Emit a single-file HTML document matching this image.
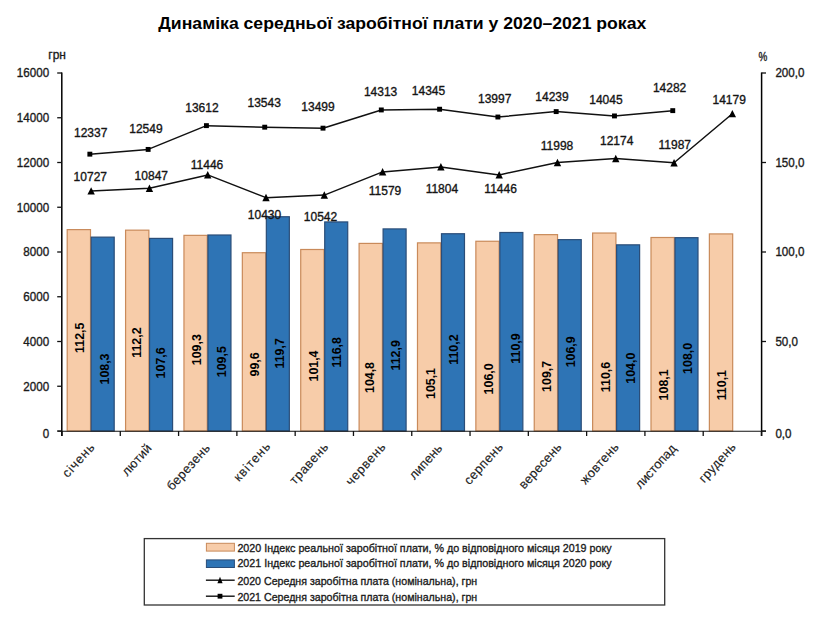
<!DOCTYPE html><html><head><meta charset="utf-8"><title>Динаміка середньої заробітної плати</title><style>
html,body{margin:0;padding:0;background:#fff;}body{width:823px;height:620px;overflow:hidden;}
svg{display:block;}text{font-family:'Liberation Sans', 'DejaVu Sans', sans-serif;fill:#111;}
.t{font-weight:bold;font-size:16.5px;fill:#000;}.ax{font-size:12.4px;fill:#1a1a1a;}.dl{font-size:12px;fill:#111;}
.bl{font-size:12.4px;font-weight:bold;fill:#000;}.cat{font-size:12.8px;fill:#1a1a1a;}.lg{font-size:11.7px;fill:#1a1a1a;}
.ax,.dl,.lg{stroke:#1a1a1a;stroke-width:0.35px;}.cat{stroke:#333;stroke-width:0.15px;}
</style></head><body>
<svg width="823" height="620" viewBox="0 0 823 620">
<text class="t" x="158.3" y="28.7" textLength="488" lengthAdjust="spacingAndGlyphs">Динаміка середньої заробітної плати у 2020–2021 роках</text>
<rect x="67.20" y="229.62" width="23.30" height="201.38" fill="#f7cca9" stroke="#c98a5a" stroke-width="1.2"/>
<rect x="91.20" y="237.14" width="23.00" height="193.86" fill="#2e74b5" stroke="#2a4d78" stroke-width="1.2"/>
<rect x="125.58" y="230.16" width="23.30" height="200.84" fill="#f7cca9" stroke="#c98a5a" stroke-width="1.2"/>
<rect x="149.58" y="238.40" width="23.00" height="192.60" fill="#2e74b5" stroke="#2a4d78" stroke-width="1.2"/>
<rect x="183.96" y="235.35" width="23.30" height="195.65" fill="#f7cca9" stroke="#c98a5a" stroke-width="1.2"/>
<rect x="207.96" y="235.00" width="23.00" height="196.00" fill="#2e74b5" stroke="#2a4d78" stroke-width="1.2"/>
<rect x="242.34" y="252.72" width="23.30" height="178.28" fill="#f7cca9" stroke="#c98a5a" stroke-width="1.2"/>
<rect x="266.34" y="216.74" width="23.00" height="214.26" fill="#2e74b5" stroke="#2a4d78" stroke-width="1.2"/>
<rect x="300.72" y="249.49" width="23.30" height="181.51" fill="#f7cca9" stroke="#c98a5a" stroke-width="1.2"/>
<rect x="324.72" y="221.93" width="23.00" height="209.07" fill="#2e74b5" stroke="#2a4d78" stroke-width="1.2"/>
<rect x="359.10" y="243.41" width="23.30" height="187.59" fill="#f7cca9" stroke="#c98a5a" stroke-width="1.2"/>
<rect x="383.10" y="228.91" width="23.00" height="202.09" fill="#2e74b5" stroke="#2a4d78" stroke-width="1.2"/>
<rect x="417.48" y="242.87" width="23.30" height="188.13" fill="#f7cca9" stroke="#c98a5a" stroke-width="1.2"/>
<rect x="441.48" y="233.74" width="23.00" height="197.26" fill="#2e74b5" stroke="#2a4d78" stroke-width="1.2"/>
<rect x="475.86" y="241.26" width="23.30" height="189.74" fill="#f7cca9" stroke="#c98a5a" stroke-width="1.2"/>
<rect x="499.86" y="232.49" width="23.00" height="198.51" fill="#2e74b5" stroke="#2a4d78" stroke-width="1.2"/>
<rect x="534.24" y="234.64" width="23.30" height="196.36" fill="#f7cca9" stroke="#c98a5a" stroke-width="1.2"/>
<rect x="558.24" y="239.65" width="23.00" height="191.35" fill="#2e74b5" stroke="#2a4d78" stroke-width="1.2"/>
<rect x="592.62" y="233.03" width="23.30" height="197.97" fill="#f7cca9" stroke="#c98a5a" stroke-width="1.2"/>
<rect x="616.62" y="244.84" width="23.00" height="186.16" fill="#2e74b5" stroke="#2a4d78" stroke-width="1.2"/>
<rect x="651.00" y="237.50" width="23.30" height="193.50" fill="#f7cca9" stroke="#c98a5a" stroke-width="1.2"/>
<rect x="675.00" y="237.68" width="23.00" height="193.32" fill="#2e74b5" stroke="#2a4d78" stroke-width="1.2"/>
<rect x="709.38" y="233.92" width="23.30" height="197.08" fill="#f7cca9" stroke="#c98a5a" stroke-width="1.2"/>
<g stroke="#111" stroke-width="1.3" fill="none">
<line x1="61.8" y1="72.4" x2="61.8" y2="436.0" stroke="#000" stroke-width="1.5"/>
<line x1="761.6" y1="72.4" x2="761.6" y2="436.0" stroke="#000" stroke-width="1.5"/>
<line x1="57.5" y1="431.2" x2="766.0" y2="431.2" stroke-width="1.1"/>
<line x1="57.2" y1="431.00" x2="62.0" y2="431.00"/>
<line x1="57.2" y1="386.25" x2="62.0" y2="386.25"/>
<line x1="57.2" y1="341.50" x2="62.0" y2="341.50"/>
<line x1="57.2" y1="296.75" x2="62.0" y2="296.75"/>
<line x1="57.2" y1="252.00" x2="62.0" y2="252.00"/>
<line x1="57.2" y1="207.25" x2="62.0" y2="207.25"/>
<line x1="57.2" y1="162.50" x2="62.0" y2="162.50"/>
<line x1="57.2" y1="117.75" x2="62.0" y2="117.75"/>
<line x1="57.2" y1="73.00" x2="62.0" y2="73.00"/>
<line x1="761.5" y1="431.00" x2="766.0" y2="431.00"/>
<line x1="761.5" y1="341.50" x2="766.0" y2="341.50"/>
<line x1="761.5" y1="252.00" x2="766.0" y2="252.00"/>
<line x1="761.5" y1="162.50" x2="766.0" y2="162.50"/>
<line x1="761.5" y1="73.00" x2="766.0" y2="73.00"/>
<line x1="62.00" y1="431.0" x2="62.00" y2="436.0"/>
<line x1="120.29" y1="431.0" x2="120.29" y2="436.0"/>
<line x1="178.58" y1="431.0" x2="178.58" y2="436.0"/>
<line x1="236.88" y1="431.0" x2="236.88" y2="436.0"/>
<line x1="295.17" y1="431.0" x2="295.17" y2="436.0"/>
<line x1="353.46" y1="431.0" x2="353.46" y2="436.0"/>
<line x1="411.75" y1="431.0" x2="411.75" y2="436.0"/>
<line x1="470.04" y1="431.0" x2="470.04" y2="436.0"/>
<line x1="528.33" y1="431.0" x2="528.33" y2="436.0"/>
<line x1="586.62" y1="431.0" x2="586.62" y2="436.0"/>
<line x1="644.92" y1="431.0" x2="644.92" y2="436.0"/>
<line x1="703.21" y1="431.0" x2="703.21" y2="436.0"/>
<line x1="761.50" y1="431.0" x2="761.50" y2="436.0"/>
</g>
<text class="ax" x="49.1" y="437.60" text-anchor="end" textLength="6.45" lengthAdjust="spacingAndGlyphs">0</text>
<text class="ax" x="49.1" y="390.55" text-anchor="end" textLength="25.80" lengthAdjust="spacingAndGlyphs">2000</text>
<text class="ax" x="49.1" y="345.80" text-anchor="end" textLength="25.80" lengthAdjust="spacingAndGlyphs">4000</text>
<text class="ax" x="49.1" y="301.05" text-anchor="end" textLength="25.80" lengthAdjust="spacingAndGlyphs">6000</text>
<text class="ax" x="49.1" y="256.30" text-anchor="end" textLength="25.80" lengthAdjust="spacingAndGlyphs">8000</text>
<text class="ax" x="49.1" y="211.55" text-anchor="end" textLength="32.25" lengthAdjust="spacingAndGlyphs">10000</text>
<text class="ax" x="49.1" y="166.80" text-anchor="end" textLength="32.25" lengthAdjust="spacingAndGlyphs">12000</text>
<text class="ax" x="49.1" y="122.05" text-anchor="end" textLength="32.25" lengthAdjust="spacingAndGlyphs">14000</text>
<text class="ax" x="49.1" y="77.30" text-anchor="end" textLength="32.25" lengthAdjust="spacingAndGlyphs">16000</text>
<text class="ax" x="775.4" y="437.60" textLength="16.12" lengthAdjust="spacingAndGlyphs">0,0</text>
<text class="ax" x="775.4" y="345.90" textLength="22.57" lengthAdjust="spacingAndGlyphs">50,0</text>
<text class="ax" x="775.4" y="256.40" textLength="29.02" lengthAdjust="spacingAndGlyphs">100,0</text>
<text class="ax" x="775.4" y="166.90" textLength="29.02" lengthAdjust="spacingAndGlyphs">150,0</text>
<text class="ax" x="775.4" y="77.40" textLength="29.02" lengthAdjust="spacingAndGlyphs">200,0</text>
<text class="ax" x="48.3" y="59" textLength="17.6" lengthAdjust="spacingAndGlyphs">грн</text>
<text class="ax" x="758.6" y="61.2" textLength="8.8" lengthAdjust="spacingAndGlyphs">%</text>
<polyline points="91.15,190.98 149.44,188.30 207.73,174.90 266.02,197.63 324.31,195.12 382.60,171.92 440.90,166.89 499.19,174.90 557.48,162.54 615.77,158.61 674.06,162.79 732.35,113.74" fill="none" stroke="#111" stroke-width="1.5" stroke-linejoin="round"/>
<polyline points="89.85,154.16 148.14,149.42 206.43,125.63 264.72,127.18 323.01,128.16 381.30,109.95 439.60,109.23 497.89,117.02 556.18,111.60 614.47,115.94 672.76,110.64" fill="none" stroke="#111" stroke-width="1.5" stroke-linejoin="round"/>
<path d="M91.15 187.18L94.85 194.58L87.45 194.58Z" fill="#000"/>
<path d="M149.44 184.50L153.14 191.90L145.74 191.90Z" fill="#000"/>
<path d="M207.73 171.10L211.43 178.50L204.03 178.50Z" fill="#000"/>
<path d="M266.02 193.83L269.72 201.23L262.32 201.23Z" fill="#000"/>
<path d="M324.31 191.32L328.01 198.72L320.61 198.72Z" fill="#000"/>
<path d="M382.60 168.12L386.30 175.52L378.90 175.52Z" fill="#000"/>
<path d="M440.90 163.09L444.60 170.49L437.20 170.49Z" fill="#000"/>
<path d="M499.19 171.10L502.89 178.50L495.49 178.50Z" fill="#000"/>
<path d="M557.48 158.74L561.18 166.14L553.78 166.14Z" fill="#000"/>
<path d="M615.77 154.81L619.47 162.21L612.07 162.21Z" fill="#000"/>
<path d="M674.06 158.99L677.76 166.39L670.36 166.39Z" fill="#000"/>
<path d="M732.35 109.94L736.05 117.34L728.65 117.34Z" fill="#000"/>
<rect x="87.40" y="151.71" width="4.9" height="4.9" fill="#000"/>
<rect x="145.69" y="146.97" width="4.9" height="4.9" fill="#000"/>
<rect x="203.98" y="123.18" width="4.9" height="4.9" fill="#000"/>
<rect x="262.27" y="124.73" width="4.9" height="4.9" fill="#000"/>
<rect x="320.56" y="125.71" width="4.9" height="4.9" fill="#000"/>
<rect x="378.85" y="107.50" width="4.9" height="4.9" fill="#000"/>
<rect x="437.15" y="106.78" width="4.9" height="4.9" fill="#000"/>
<rect x="495.44" y="114.57" width="4.9" height="4.9" fill="#000"/>
<rect x="553.73" y="109.15" width="4.9" height="4.9" fill="#000"/>
<rect x="612.02" y="113.49" width="4.9" height="4.9" fill="#000"/>
<rect x="670.31" y="108.19" width="4.9" height="4.9" fill="#000"/>
<text class="dl" x="90.7" y="137.3" text-anchor="middle">12337</text>
<text class="dl" x="145.9" y="133.0" text-anchor="middle">12549</text>
<text class="dl" x="201.9" y="112.3" text-anchor="middle">13612</text>
<text class="dl" x="264.2" y="107.0" text-anchor="middle">13543</text>
<text class="dl" x="318.0" y="110.9" text-anchor="middle">13499</text>
<text class="dl" x="380.6" y="96.2" text-anchor="middle">14313</text>
<text class="dl" x="428.5" y="95.4" text-anchor="middle">14345</text>
<text class="dl" x="494.7" y="103.4" text-anchor="middle">13997</text>
<text class="dl" x="552.0" y="100.8" text-anchor="middle">14239</text>
<text class="dl" x="605.9" y="104.4" text-anchor="middle">14045</text>
<text class="dl" x="669.6" y="92.2" text-anchor="middle">14282</text>
<text class="dl" x="90.3" y="181.0" text-anchor="middle">10727</text>
<text class="dl" x="151.3" y="180.1" text-anchor="middle">10847</text>
<text class="dl" x="207.0" y="168.9" text-anchor="middle">11446</text>
<text class="dl" x="264.5" y="219.2" text-anchor="middle">10430</text>
<text class="dl" x="320.5" y="220.5" text-anchor="middle">10542</text>
<text class="dl" x="385.0" y="194.5" text-anchor="middle">11579</text>
<text class="dl" x="441.9" y="193.4" text-anchor="middle">11804</text>
<text class="dl" x="500.6" y="193.4" text-anchor="middle">11446</text>
<text class="dl" x="557.0" y="149.6" text-anchor="middle">11998</text>
<text class="dl" x="616.7" y="145.1" text-anchor="middle">12174</text>
<text class="dl" x="674.8" y="148.5" text-anchor="middle">11987</text>
<text class="dl" x="729.2" y="103.7" text-anchor="middle">14179</text>
<text class="bl" transform="translate(84.1 337.8) rotate(-90)" text-anchor="middle">112,5</text>
<text class="bl" transform="translate(141.0 342.6) rotate(-90)" text-anchor="middle">112,2</text>
<text class="bl" transform="translate(201.1 349.7) rotate(-90)" text-anchor="middle">109,3</text>
<text class="bl" transform="translate(259.2 364.4) rotate(-90)" text-anchor="middle">99,6</text>
<text class="bl" transform="translate(318.0 366.0) rotate(-90)" text-anchor="middle">101,4</text>
<text class="bl" transform="translate(373.8 377.5) rotate(-90)" text-anchor="middle">104,8</text>
<text class="bl" transform="translate(435.2 383.5) rotate(-90)" text-anchor="middle">105,1</text>
<text class="bl" transform="translate(492.7 378.9) rotate(-90)" text-anchor="middle">106,0</text>
<text class="bl" transform="translate(551.4 376.4) rotate(-90)" text-anchor="middle">109,7</text>
<text class="bl" transform="translate(610.0 377.0) rotate(-90)" text-anchor="middle">110,6</text>
<text class="bl" transform="translate(668.1 384.9) rotate(-90)" text-anchor="middle">108,1</text>
<text class="bl" transform="translate(725.8 385.2) rotate(-90)" text-anchor="middle">110,1</text>
<text class="bl" transform="translate(109.3 369.0) rotate(-90)" text-anchor="middle">108,3</text>
<text class="bl" transform="translate(165.0 362.9) rotate(-90)" text-anchor="middle">107,6</text>
<text class="bl" transform="translate(226.3 361.7) rotate(-90)" text-anchor="middle">109,5</text>
<text class="bl" transform="translate(284.0 353.4) rotate(-90)" text-anchor="middle">119,7</text>
<text class="bl" transform="translate(340.5 352.3) rotate(-90)" text-anchor="middle">116,8</text>
<text class="bl" transform="translate(399.6 355.4) rotate(-90)" text-anchor="middle">112,9</text>
<text class="bl" transform="translate(457.7 349.6) rotate(-90)" text-anchor="middle">110,2</text>
<text class="bl" transform="translate(519.6 348.5) rotate(-90)" text-anchor="middle">110,9</text>
<text class="bl" transform="translate(574.5 351.8) rotate(-90)" text-anchor="middle">106,9</text>
<text class="bl" transform="translate(634.7 368.2) rotate(-90)" text-anchor="middle">104,0</text>
<text class="bl" transform="translate(691.8 358.4) rotate(-90)" text-anchor="middle">108,0</text>
<text class="cat" transform="translate(95.1 448.0) rotate(-48.0)" text-anchor="end" textLength="40.8">січень</text>
<text class="cat" transform="translate(152.4 448.8) rotate(-48.0)" text-anchor="end" textLength="37.7">лютий</text>
<text class="cat" transform="translate(210.8 448.5) rotate(-48.0)" text-anchor="end" textLength="57.7">березень</text>
<text class="cat" transform="translate(270.9 447.0) rotate(-48.0)" text-anchor="end" textLength="47.5">квітень</text>
<text class="cat" transform="translate(328.9 447.6) rotate(-48.0)" text-anchor="end" textLength="50.6">травень</text>
<text class="cat" transform="translate(386.2 447.6) rotate(-48.0)" text-anchor="end" textLength="52.4">червень</text>
<text class="cat" transform="translate(442.9 448.8) rotate(-48.0)" text-anchor="end" textLength="42.4">липень</text>
<text class="cat" transform="translate(503.6 447.6) rotate(-48.0)" text-anchor="end" textLength="51.1">серпень</text>
<text class="cat" transform="translate(562.3 447.6) rotate(-48.0)" text-anchor="end" textLength="56.8">вересень</text>
<text class="cat" transform="translate(619.4 447.6) rotate(-48.0)" text-anchor="end" textLength="50.7">жовтень</text>
<text class="cat" transform="translate(677.0 449.0) rotate(-48.0)" text-anchor="end" textLength="54.6">листопад</text>
<text class="cat" transform="translate(736.5 447.6) rotate(-48.0)" text-anchor="end" textLength="48.2">грудень</text>
<rect x="144.3" y="538.6" width="520.4" height="66.4" fill="#fff" stroke="#333" stroke-width="1.3"/>
<rect x="206.4" y="543.3" width="28" height="7.8" fill="#f7cca9" stroke="#c98a5a" stroke-width="1"/>
<rect x="206.4" y="559.9" width="28" height="7.6" fill="#2e74b5" stroke="#2a4d78" stroke-width="1"/>
<line x1="205.9" y1="580.2" x2="234.7" y2="580.2" stroke="#111" stroke-width="1.4"/>
<path d="M220 576.8L222.6 583.2L217.4 583.2Z" fill="#000"/>
<line x1="205.9" y1="596.2" x2="234.7" y2="596.2" stroke="#111" stroke-width="1.4"/>
<rect x="217.6" y="593.8" width="4.8" height="4.8" fill="#000"/>
<text class="lg" x="237.4" y="551.8" textLength="374.2" lengthAdjust="spacingAndGlyphs">2020 Індекс реальної заробітної плати, % до відповідного місяця 2019 року</text>
<text class="lg" x="237.4" y="567.3" textLength="374.2" lengthAdjust="spacingAndGlyphs">2021 Індекс реальної заробітної плати, % до відповідного місяця 2020 року</text>
<text class="lg" x="237.4" y="584.6" textLength="239.8" lengthAdjust="spacingAndGlyphs">2020 Середня заробітна плата (номінальна), грн</text>
<text class="lg" x="237.4" y="601.3" textLength="239.8" lengthAdjust="spacingAndGlyphs">2021 Середня заробітна плата (номінальна), грн</text>
</svg></body></html>
